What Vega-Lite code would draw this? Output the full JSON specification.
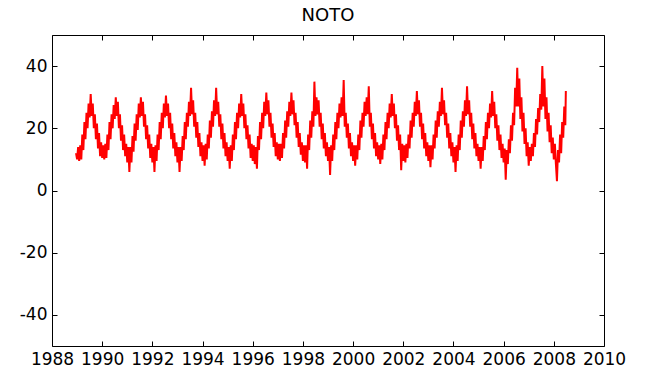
{
"$schema": "https://vega.github.io/schema/vega-lite/v6.json",
"width": 552, "height": 311,
"autosize": {"type": "none"},
"padding": {"left": 52, "top": 35, "right": 45, "bottom": 32},
"background": "white",
"title": {"text": "NOTO", "fontSize": 18, "font": "DejaVu Sans", "fontWeight": "normal", "color": "black", "offset": 10},
"config": {
  "view": {"stroke": "black", "strokeWidth": 1},
  "axis": {"labelFont": "DejaVu Sans", "labelFontSize": 17, "labelColor": "black", "tickColor": "black", "tickWidth": 1, "grid": false, "domain": false, "title": null}
},
"data": {"values": [
{"t":1988.958,"v":12},
{"t":1989.000,"v":10},{"t":1989.042,"v":14},{"t":1989.083,"v":9.5},{"t":1989.125,"v":14.5},{"t":1989.167,"v":10},{"t":1989.208,"v":18},{"t":1989.250,"v":13},{"t":1989.292,"v":22},{"t":1989.333,"v":16.5},{"t":1989.375,"v":25},{"t":1989.417,"v":20},{"t":1989.458,"v":28},{"t":1989.500,"v":23.5},{"t":1989.542,"v":31},{"t":1989.583,"v":24},{"t":1989.625,"v":28},{"t":1989.667,"v":20},{"t":1989.708,"v":24.5},{"t":1989.750,"v":16.5},{"t":1989.792,"v":21.5},{"t":1989.833,"v":13.5},{"t":1989.875,"v":18.5},{"t":1989.917,"v":11},{"t":1989.958,"v":15.5},
{"t":1990.000,"v":10.5},{"t":1990.042,"v":14.5},{"t":1990.083,"v":10},{"t":1990.125,"v":15},{"t":1990.167,"v":10.5},{"t":1990.208,"v":18},{"t":1990.250,"v":13},{"t":1990.292,"v":22},{"t":1990.333,"v":16.5},{"t":1990.375,"v":24.5},{"t":1990.417,"v":20},{"t":1990.458,"v":27.5},{"t":1990.500,"v":23},{"t":1990.542,"v":30},{"t":1990.583,"v":24},{"t":1990.625,"v":28.5},{"t":1990.667,"v":20},{"t":1990.708,"v":24.5},{"t":1990.750,"v":16},{"t":1990.792,"v":21},{"t":1990.833,"v":13},{"t":1990.875,"v":18},{"t":1990.917,"v":11},{"t":1990.958,"v":15},
{"t":1991.000,"v":9},{"t":1991.042,"v":14},{"t":1991.083,"v":6},{"t":1991.125,"v":14},{"t":1991.167,"v":9},{"t":1991.208,"v":17.5},{"t":1991.250,"v":12.5},{"t":1991.292,"v":21.5},{"t":1991.333,"v":16},{"t":1991.375,"v":24.5},{"t":1991.417,"v":19.5},{"t":1991.458,"v":28},{"t":1991.500,"v":23.5},{"t":1991.542,"v":30},{"t":1991.583,"v":24},{"t":1991.625,"v":28.5},{"t":1991.667,"v":20.5},{"t":1991.708,"v":24.5},{"t":1991.750,"v":16.5},{"t":1991.792,"v":21},{"t":1991.833,"v":13.5},{"t":1991.875,"v":18},{"t":1991.917,"v":10.5},{"t":1991.958,"v":15},
{"t":1992.000,"v":9},{"t":1992.042,"v":14},{"t":1992.083,"v":6},{"t":1992.125,"v":14.5},{"t":1992.167,"v":9.5},{"t":1992.208,"v":18},{"t":1992.250,"v":13},{"t":1992.292,"v":22},{"t":1992.333,"v":16.5},{"t":1992.375,"v":25},{"t":1992.417,"v":20},{"t":1992.458,"v":28},{"t":1992.500,"v":23.5},{"t":1992.542,"v":30.5},{"t":1992.583,"v":24},{"t":1992.625,"v":28},{"t":1992.667,"v":20},{"t":1992.708,"v":25},{"t":1992.750,"v":16.5},{"t":1992.792,"v":21.5},{"t":1992.833,"v":13.5},{"t":1992.875,"v":18.5},{"t":1992.917,"v":11},{"t":1992.958,"v":15.5},
{"t":1993.000,"v":9},{"t":1993.042,"v":14},{"t":1993.083,"v":6},{"t":1993.125,"v":14},{"t":1993.167,"v":9.5},{"t":1993.208,"v":17.5},{"t":1993.250,"v":13},{"t":1993.292,"v":22},{"t":1993.333,"v":16.5},{"t":1993.375,"v":25},{"t":1993.417,"v":20.5},{"t":1993.458,"v":28.5},{"t":1993.500,"v":24},{"t":1993.542,"v":33},{"t":1993.583,"v":24.5},{"t":1993.625,"v":29},{"t":1993.667,"v":20.5},{"t":1993.708,"v":25},{"t":1993.750,"v":17},{"t":1993.792,"v":22},{"t":1993.833,"v":14},{"t":1993.875,"v":18.5},{"t":1993.917,"v":11},{"t":1993.958,"v":15.5},
{"t":1994.000,"v":9.5},{"t":1994.042,"v":14.5},{"t":1994.083,"v":8},{"t":1994.125,"v":15},{"t":1994.167,"v":10},{"t":1994.208,"v":18},{"t":1994.250,"v":13.5},{"t":1994.292,"v":22.5},{"t":1994.333,"v":17},{"t":1994.375,"v":25.5},{"t":1994.417,"v":20.5},{"t":1994.458,"v":29},{"t":1994.500,"v":24},{"t":1994.542,"v":33},{"t":1994.583,"v":24.5},{"t":1994.625,"v":28.5},{"t":1994.667,"v":20.5},{"t":1994.708,"v":24.5},{"t":1994.750,"v":16.5},{"t":1994.792,"v":21.5},{"t":1994.833,"v":13.5},{"t":1994.875,"v":18.5},{"t":1994.917,"v":11},{"t":1994.958,"v":15.5},
{"t":1995.000,"v":9.5},{"t":1995.042,"v":14},{"t":1995.083,"v":7},{"t":1995.125,"v":14.5},{"t":1995.167,"v":9.5},{"t":1995.208,"v":18},{"t":1995.250,"v":13},{"t":1995.292,"v":22},{"t":1995.333,"v":16.5},{"t":1995.375,"v":25},{"t":1995.417,"v":20},{"t":1995.458,"v":28},{"t":1995.500,"v":23.5},{"t":1995.542,"v":31},{"t":1995.583,"v":24},{"t":1995.625,"v":28},{"t":1995.667,"v":20},{"t":1995.708,"v":24.5},{"t":1995.750,"v":16.5},{"t":1995.792,"v":21},{"t":1995.833,"v":13.5},{"t":1995.875,"v":18},{"t":1995.917,"v":10.5},{"t":1995.958,"v":15},
{"t":1996.000,"v":9.5},{"t":1996.042,"v":14.5},{"t":1996.083,"v":8.5},{"t":1996.125,"v":14},{"t":1996.167,"v":7},{"t":1996.208,"v":17.5},{"t":1996.250,"v":13},{"t":1996.292,"v":22},{"t":1996.333,"v":16.5},{"t":1996.375,"v":25},{"t":1996.417,"v":20},{"t":1996.458,"v":28.5},{"t":1996.500,"v":24},{"t":1996.542,"v":31.5},{"t":1996.583,"v":24.5},{"t":1996.625,"v":29},{"t":1996.667,"v":20.5},{"t":1996.708,"v":25},{"t":1996.750,"v":17},{"t":1996.792,"v":21.5},{"t":1996.833,"v":14},{"t":1996.875,"v":18.5},{"t":1996.917,"v":11},{"t":1996.958,"v":15.5},
{"t":1997.000,"v":10},{"t":1997.042,"v":15},{"t":1997.083,"v":9.5},{"t":1997.125,"v":15},{"t":1997.167,"v":10.5},{"t":1997.208,"v":18.5},{"t":1997.250,"v":13.5},{"t":1997.292,"v":22.5},{"t":1997.333,"v":17},{"t":1997.375,"v":25.5},{"t":1997.417,"v":20.5},{"t":1997.458,"v":28.5},{"t":1997.500,"v":24},{"t":1997.542,"v":31.5},{"t":1997.583,"v":24.5},{"t":1997.625,"v":29},{"t":1997.667,"v":21},{"t":1997.708,"v":25},{"t":1997.750,"v":17},{"t":1997.792,"v":22},{"t":1997.833,"v":14},{"t":1997.875,"v":18.5},{"t":1997.917,"v":11.5},{"t":1997.958,"v":15.5},
{"t":1998.000,"v":9.5},{"t":1998.042,"v":14.5},{"t":1998.083,"v":9},{"t":1998.125,"v":14.5},{"t":1998.167,"v":7},{"t":1998.208,"v":18},{"t":1998.250,"v":13},{"t":1998.292,"v":22.5},{"t":1998.333,"v":17},{"t":1998.375,"v":25.5},{"t":1998.417,"v":20.5},{"t":1998.458,"v":35},{"t":1998.500,"v":24},{"t":1998.542,"v":30},{"t":1998.583,"v":24.5},{"t":1998.625,"v":29},{"t":1998.667,"v":20.5},{"t":1998.708,"v":25},{"t":1998.750,"v":16.5},{"t":1998.792,"v":21.5},{"t":1998.833,"v":13.5},{"t":1998.875,"v":18.5},{"t":1998.917,"v":11},{"t":1998.958,"v":15.5},
{"t":1999.000,"v":9.5},{"t":1999.042,"v":14},{"t":1999.083,"v":5},{"t":1999.125,"v":14.5},{"t":1999.167,"v":9.5},{"t":1999.208,"v":18},{"t":1999.250,"v":13},{"t":1999.292,"v":22},{"t":1999.333,"v":16.5},{"t":1999.375,"v":25},{"t":1999.417,"v":20},{"t":1999.458,"v":28},{"t":1999.500,"v":23.5},{"t":1999.542,"v":30},{"t":1999.583,"v":24},{"t":1999.625,"v":35.5},{"t":1999.667,"v":20.5},{"t":1999.708,"v":25},{"t":1999.750,"v":17},{"t":1999.792,"v":21.5},{"t":1999.833,"v":13.5},{"t":1999.875,"v":18.5},{"t":1999.917,"v":11},{"t":1999.958,"v":15.5},
{"t":2000.000,"v":9.5},{"t":2000.042,"v":14.5},{"t":2000.083,"v":8},{"t":2000.125,"v":14.5},{"t":2000.167,"v":10},{"t":2000.208,"v":18},{"t":2000.250,"v":13},{"t":2000.292,"v":22.5},{"t":2000.333,"v":17},{"t":2000.375,"v":25},{"t":2000.417,"v":20.5},{"t":2000.458,"v":28.5},{"t":2000.500,"v":24},{"t":2000.542,"v":30},{"t":2000.583,"v":24.5},{"t":2000.625,"v":33.5},{"t":2000.667,"v":20.5},{"t":2000.708,"v":25},{"t":2000.750,"v":16.5},{"t":2000.792,"v":21.5},{"t":2000.833,"v":13.5},{"t":2000.875,"v":18.5},{"t":2000.917,"v":11},{"t":2000.958,"v":15.5},
{"t":2001.000,"v":10},{"t":2001.042,"v":14.5},{"t":2001.083,"v":8.5},{"t":2001.125,"v":15},{"t":2001.167,"v":10},{"t":2001.208,"v":18},{"t":2001.250,"v":13},{"t":2001.292,"v":22},{"t":2001.333,"v":16.5},{"t":2001.375,"v":25},{"t":2001.417,"v":20},{"t":2001.458,"v":28},{"t":2001.500,"v":23.5},{"t":2001.542,"v":31},{"t":2001.583,"v":24},{"t":2001.625,"v":28},{"t":2001.667,"v":20},{"t":2001.708,"v":24.5},{"t":2001.750,"v":16},{"t":2001.792,"v":21},{"t":2001.833,"v":13},{"t":2001.875,"v":18},{"t":2001.917,"v":6.5},{"t":2001.958,"v":15},
{"t":2002.000,"v":9.5},{"t":2002.042,"v":14.5},{"t":2002.083,"v":9},{"t":2002.125,"v":15},{"t":2002.167,"v":10.5},{"t":2002.208,"v":18},{"t":2002.250,"v":13.5},{"t":2002.292,"v":22.5},{"t":2002.333,"v":17},{"t":2002.375,"v":25},{"t":2002.417,"v":20.5},{"t":2002.458,"v":28.5},{"t":2002.500,"v":24},{"t":2002.542,"v":32},{"t":2002.583,"v":24.5},{"t":2002.625,"v":29},{"t":2002.667,"v":20.5},{"t":2002.708,"v":25},{"t":2002.750,"v":16.5},{"t":2002.792,"v":21.5},{"t":2002.833,"v":13.5},{"t":2002.875,"v":18.5},{"t":2002.917,"v":11},{"t":2002.958,"v":15.5},
{"t":2003.000,"v":9.5},{"t":2003.042,"v":14.5},{"t":2003.083,"v":7.5},{"t":2003.125,"v":14.5},{"t":2003.167,"v":10},{"t":2003.208,"v":18},{"t":2003.250,"v":13.5},{"t":2003.292,"v":22.5},{"t":2003.333,"v":17},{"t":2003.375,"v":25.5},{"t":2003.417,"v":20.5},{"t":2003.458,"v":28.5},{"t":2003.500,"v":24},{"t":2003.542,"v":33},{"t":2003.583,"v":24.5},{"t":2003.625,"v":29},{"t":2003.667,"v":21},{"t":2003.708,"v":25},{"t":2003.750,"v":17},{"t":2003.792,"v":21.5},{"t":2003.833,"v":13.5},{"t":2003.875,"v":18.5},{"t":2003.917,"v":11},{"t":2003.958,"v":15.5},
{"t":2004.000,"v":9},{"t":2004.042,"v":14},{"t":2004.083,"v":6},{"t":2004.125,"v":14.5},{"t":2004.167,"v":9.5},{"t":2004.208,"v":18},{"t":2004.250,"v":13},{"t":2004.292,"v":22.5},{"t":2004.333,"v":17},{"t":2004.375,"v":25.5},{"t":2004.417,"v":20.5},{"t":2004.458,"v":29},{"t":2004.500,"v":24},{"t":2004.542,"v":33.5},{"t":2004.583,"v":24.5},{"t":2004.625,"v":29},{"t":2004.667,"v":20.5},{"t":2004.708,"v":25},{"t":2004.750,"v":16.5},{"t":2004.792,"v":21.5},{"t":2004.833,"v":13.5},{"t":2004.875,"v":18.5},{"t":2004.917,"v":11},{"t":2004.958,"v":15},
{"t":2005.000,"v":9.5},{"t":2005.042,"v":14},{"t":2005.083,"v":7},{"t":2005.125,"v":14},{"t":2005.167,"v":9.5},{"t":2005.208,"v":17.5},{"t":2005.250,"v":13},{"t":2005.292,"v":22},{"t":2005.333,"v":16.5},{"t":2005.375,"v":25},{"t":2005.417,"v":20},{"t":2005.458,"v":28},{"t":2005.500,"v":23.5},{"t":2005.542,"v":32},{"t":2005.583,"v":24},{"t":2005.625,"v":28.5},{"t":2005.667,"v":20},{"t":2005.708,"v":24.5},{"t":2005.750,"v":16},{"t":2005.792,"v":21},{"t":2005.833,"v":13},{"t":2005.875,"v":18},{"t":2005.917,"v":10.5},{"t":2005.958,"v":15},
{"t":2006.000,"v":9},{"t":2006.042,"v":13.5},{"t":2006.083,"v":3.5},{"t":2006.125,"v":13},{"t":2006.167,"v":8.5},{"t":2006.208,"v":16.5},{"t":2006.250,"v":12},{"t":2006.292,"v":21},{"t":2006.333,"v":16},{"t":2006.375,"v":25},{"t":2006.417,"v":21},{"t":2006.458,"v":33},{"t":2006.500,"v":27},{"t":2006.542,"v":39.5},{"t":2006.583,"v":27},{"t":2006.625,"v":36},{"t":2006.667,"v":23},{"t":2006.708,"v":30},{"t":2006.750,"v":19},{"t":2006.792,"v":25},{"t":2006.833,"v":15},{"t":2006.875,"v":20},{"t":2006.917,"v":11},{"t":2006.958,"v":15.5},
{"t":2007.000,"v":8},{"t":2007.042,"v":14},{"t":2007.083,"v":9.5},{"t":2007.125,"v":15},{"t":2007.167,"v":11},{"t":2007.208,"v":18.5},{"t":2007.250,"v":14},{"t":2007.292,"v":23},{"t":2007.333,"v":18},{"t":2007.375,"v":26.5},{"t":2007.417,"v":22},{"t":2007.458,"v":31},{"t":2007.500,"v":26},{"t":2007.542,"v":40},{"t":2007.583,"v":27},{"t":2007.625,"v":36},{"t":2007.667,"v":23},{"t":2007.708,"v":30},{"t":2007.750,"v":19},{"t":2007.792,"v":25},{"t":2007.833,"v":15.5},{"t":2007.875,"v":21},{"t":2007.917,"v":12},{"t":2007.958,"v":17},
{"t":2008.000,"v":10},{"t":2008.042,"v":15},{"t":2008.083,"v":8.5},{"t":2008.125,"v":3},{"t":2008.167,"v":13},{"t":2008.208,"v":9},{"t":2008.250,"v":18},{"t":2008.292,"v":12},{"t":2008.333,"v":22},{"t":2008.375,"v":17},{"t":2008.417,"v":27},{"t":2008.458,"v":21},{"t":2008.479,"v":32}
]},
"layer": [
  {
    "mark": {"type": "line", "color": "#ff0000", "strokeWidth": 2},
    "encoding": {
      "x": {"field": "t", "type": "quantitative", "scale": {"domain": [1988, 2010], "nice": false, "zero": false},
            "axis": {"orient": "bottom", "values": [1988,1990,1992,1994,1996,1998,2000,2002,2004,2006,2008,2010], "format": "d", "tickSize": -5, "labelPadding": 10, "labelFlush": false, "labelOverlap": false, "labelBound": false}},
      "y": {"field": "v", "type": "quantitative", "scale": {"domain": [-50, 50], "nice": false, "zero": false},
            "axis": {"orient": "left", "values": [-40,-20,0,20,40], "tickSize": -5, "labelPadding": 10, "labelExpr": "datum.value < 0 ? '-' + abs(datum.value) : '' + datum.value"}}
    }
  },
  {
    "mark": {"type": "line", "opacity": 0},
    "encoding": {
      "x": {"field": "t", "type": "quantitative", "axis": {"orient": "top", "values": [1988,1990,1992,1994,1996,1998,2000,2002,2004,2006,2008,2010], "labels": false, "tickSize": -5}},
      "y": {"field": "v", "type": "quantitative", "axis": {"orient": "right", "values": [-40,-20,0,20,40], "labels": false, "tickSize": -5}}
    }
  }
],
"resolve": {"axis": {"x": "independent", "y": "independent"}}
}
